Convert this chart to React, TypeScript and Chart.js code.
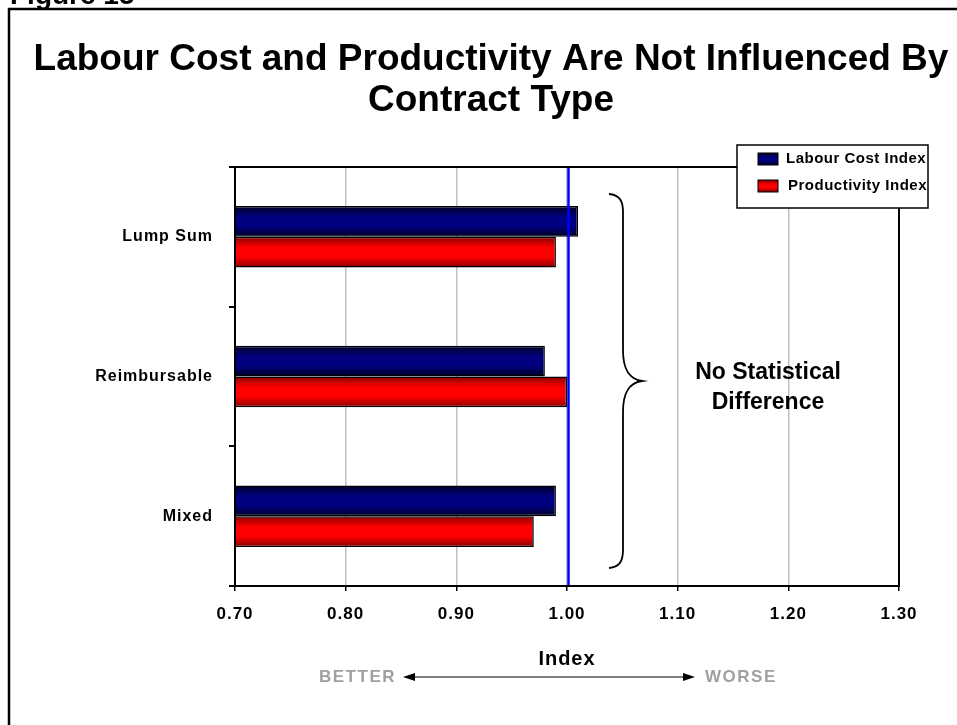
import React, { useEffect, useRef } from "react";
import { Chart, registerables } from "chart.js";

Chart.register(...registerables);

const categories = ["Lump Sum", "Reimbursable", "Mixed"];
const labourCostIndex = [1.01, 0.98, 0.99];
const productivityIndex = [0.99, 1.0, 0.97];
const seriesNames = ["Labour Cost Index", "Productivity Index"];
const xTickValues = [0.7, 0.8, 0.9, 1.0, 1.1, 1.2, 1.3];
const referenceValue = 1.0;
const titleLines = ["Labour Cost and Productivity Are Not Influenced By", "Contract Type"];
const noteLines = ["No Statistical", "Difference"];

const FONT = "'Liberation Sans', Arial, sans-serif";
const CAT_PCT = 0.44;

const palette = [
  { dark: "#000024", mid: "#000080" },
  { dark: "#8a0000", mid: "#ff0000" },
];

function barFill(ctx: any) {
  const p = palette[ctx.datasetIndex];
  const chart = ctx.chart;
  const ys = chart.scales && chart.scales.y;
  if (!ys || ctx.type !== "data" || !(ys.bottom > ys.top)) return p.mid;
  const center = ys.getPixelForValue(ctx.dataIndex);
  const band = (ys.bottom - ys.top) / categories.length;
  const h = (band * CAT_PCT) / 2;
  const top = ctx.datasetIndex === 0 ? center - h : center;
  const g = chart.ctx.createLinearGradient(0, top, 0, top + h);
  g.addColorStop(0, p.dark);
  g.addColorStop(0.35, p.mid);
  g.addColorStop(0.65, p.mid);
  g.addColorStop(1, p.dark);
  return g;
}

function swatchFill(c: CanvasRenderingContext2D, i: number, top: number, h: number) {
  const p = palette[i];
  const g = c.createLinearGradient(0, top, 0, top + h);
  g.addColorStop(0, p.dark);
  g.addColorStop(0.4, p.mid);
  g.addColorStop(0.6, p.mid);
  g.addColorStop(1, p.dark);
  return g;
}

const decorPlugin = {
  id: "decor",
  beforeDraw(chart: any) {
    const c = chart.ctx;
    c.save();
    c.letterSpacing = "0px";
    c.fillStyle = "#ffffff";
    c.fillRect(0, 0, chart.width, chart.height);
    // figure caption (cut off at top)
    c.fillStyle = "#000";
    c.font = `bold 28px ${FONT}`;
    c.textAlign = "left";
    c.textBaseline = "alphabetic";
    c.fillText("Figure 15", 10, 4);
    // outer frame
    c.strokeStyle = "#000";
    c.lineWidth = 2.5;
    c.strokeRect(9, 9, chart.width + 20, chart.height + 20);
    // title
    c.font = `bold 37px ${FONT}`;
    c.textAlign = "center";
    c.textBaseline = "middle";
    c.fillText(titleLines[0], 491, 60);
    c.fillText(titleLines[1], 491, 101);
    c.restore();
    // spacing for x tick labels and axis title (drawn in back layers)
    c.letterSpacing = "1px";
  },
  beforeDatasetsDraw(chart: any) {
    chart.ctx.letterSpacing = "0px";
  },
  afterDatasetsDraw(chart: any) {
    const c = chart.ctx;
    const a = chart.chartArea;
    const xs = chart.scales.x;
    c.save();
    // reference line
    const rx = xs.getPixelForValue(referenceValue) + 1.5;
    c.strokeStyle = "#0000ff";
    c.lineWidth = 2.5;
    c.beginPath();
    c.moveTo(rx, a.top);
    c.lineTo(rx, a.bottom);
    c.stroke();
    // plot border
    c.strokeStyle = "#000";
    c.lineWidth = 2;
    c.strokeRect(a.left, a.top, a.right - a.left, a.bottom - a.top);
    c.restore();
    // spacing for category labels (front layer)
    c.letterSpacing = "2.5px";
  },
  afterDraw(chart: any) {
    const c = chart.ctx;
    c.letterSpacing = "0px";
    c.save();
    // brace
    c.strokeStyle = "#000";
    c.lineWidth = 1.8;
    c.beginPath();
    c.moveTo(609, 194);
    c.bezierCurveTo(619, 195, 623, 200, 623, 212);
    c.lineTo(623, 350);
    c.bezierCurveTo(623, 368, 628, 379, 642, 381);
    c.bezierCurveTo(628, 383, 623, 394, 623, 412);
    c.lineTo(623, 550);
    c.bezierCurveTo(623, 562, 619, 567, 609, 568);
    c.stroke();
    // note text
    c.fillStyle = "#000";
    c.font = `bold 23px ${FONT}`;
    c.textAlign = "center";
    c.textBaseline = "middle";
    c.fillText(noteLines[0], 768, 373);
    c.fillText(noteLines[1], 768, 403);
    // BETTER / WORSE
    const ay = 677;
    c.fillStyle = "#a0a0a0";
    c.font = `bold 17px ${FONT}`;
    c.letterSpacing = "1.5px";
    c.textAlign = "left";
    c.fillText("BETTER", 319, ay);
    c.fillText("WORSE", 705, ay);
    c.letterSpacing = "0px";
    c.strokeStyle = "#000";
    c.lineWidth = 1;
    c.beginPath();
    c.moveTo(406, ay);
    c.lineTo(692, ay);
    c.stroke();
    c.fillStyle = "#000";
    c.beginPath();
    c.moveTo(403, ay);
    c.lineTo(415, ay - 4);
    c.lineTo(415, ay + 4);
    c.closePath();
    c.fill();
    c.beginPath();
    c.moveTo(695, ay);
    c.lineTo(683, ay - 4);
    c.lineTo(683, ay + 4);
    c.closePath();
    c.fill();
    // legend
    c.fillStyle = "#fff";
    c.fillRect(737, 145, 191, 63);
    c.strokeStyle = "#000";
    c.lineWidth = 1.5;
    c.strokeRect(737, 145, 191, 63);
    const ds = chart.data.datasets;
    const rows = [159, 186];
    const textX = [786, 788];
    ds.forEach((d: any, i: number) => {
      const y = rows[i];
      c.fillStyle = swatchFill(c, i, y - 6, 12);
      c.fillRect(758, y - 6, 20, 12);
      c.strokeStyle = "#000";
      c.lineWidth = 1;
      c.strokeRect(758, y - 6, 20, 12);
      c.fillStyle = "#000";
      c.font = `bold 15px ${FONT}`;
      c.letterSpacing = "0.5px";
      c.textAlign = "left";
      c.textBaseline = "middle";
      c.fillText(d.label, textX[i], y);
      c.letterSpacing = "0px";
    });
    c.restore();
  },
};

export default function App() {
  const ref = useRef<HTMLCanvasElement | null>(null);
  useEffect(() => {
    if (!ref.current) return;
    const chart = new Chart(ref.current, {
      type: "bar",
      data: {
        labels: categories,
        datasets: [
          {
            label: seriesNames[0],
            data: labourCostIndex,
            backgroundColor: barFill,
            borderColor: "#000",
            borderWidth: 1.5,
            borderSkipped: false,
            categoryPercentage: CAT_PCT,
            barPercentage: 1,
          },
          {
            label: seriesNames[1],
            data: productivityIndex,
            backgroundColor: barFill,
            borderColor: "#000",
            borderWidth: 1.5,
            borderSkipped: false,
            categoryPercentage: CAT_PCT,
            barPercentage: 1,
          },
        ],
      },
      options: {
        indexAxis: "y",
        responsive: false,
        animation: false,
        layout: { padding: { left: 0, right: 58, top: 167, bottom: 0 } },
        plugins: {
          legend: { display: false },
          title: { display: false },
          tooltip: { enabled: false },
        },
        scales: {
          x: {
            type: "linear",
            min: 0.7,
            max: 1.3,
            afterBuildTicks: (s: any) => {
              s.ticks = xTickValues.map((v) => ({ value: v }));
            },
            afterFit: (s: any) => {
              s.height = 139;
            },
            ticks: {
              callback: (v: any) => Number(v).toFixed(2),
              font: { family: FONT, size: 17, weight: "bold" },
              color: "#000",
              padding: 13,
              maxRotation: 0,
              z: -1,
            },
            grid: {
              color: "#c0c0c0",
              lineWidth: 1.5,
              tickColor: "#000",
              tickLength: 5,
            },
            border: { display: true, color: "#000", width: 2 },
            title: {
              display: true,
              text: "Index",
              color: "#000",
              font: { family: FONT, size: 20, weight: "bold" },
              padding: { top: 0, bottom: 54 },
            },
          },
          y: {
            afterFit: (s: any) => {
              s.width = 235;
            },
            ticks: {
              font: { family: FONT, size: 16, weight: "bold" },
              color: "#000",
              padding: 16,
            },
            grid: {
              offset: true,
              drawOnChartArea: false,
              tickColor: "#000",
              tickLength: 6,
              lineWidth: 2,
            },
            border: { display: true, color: "#000", width: 2 },
          },
        },
      },
      plugins: [decorPlugin],
    });
    return () => chart.destroy();
  }, []);
  return (
    <div style={{ position: "absolute", left: 0, top: 0, width: 957, height: 725 }}>
      <canvas ref={ref} width={957} height={725} style={{ display: "block" }} />
    </div>
  );
}
